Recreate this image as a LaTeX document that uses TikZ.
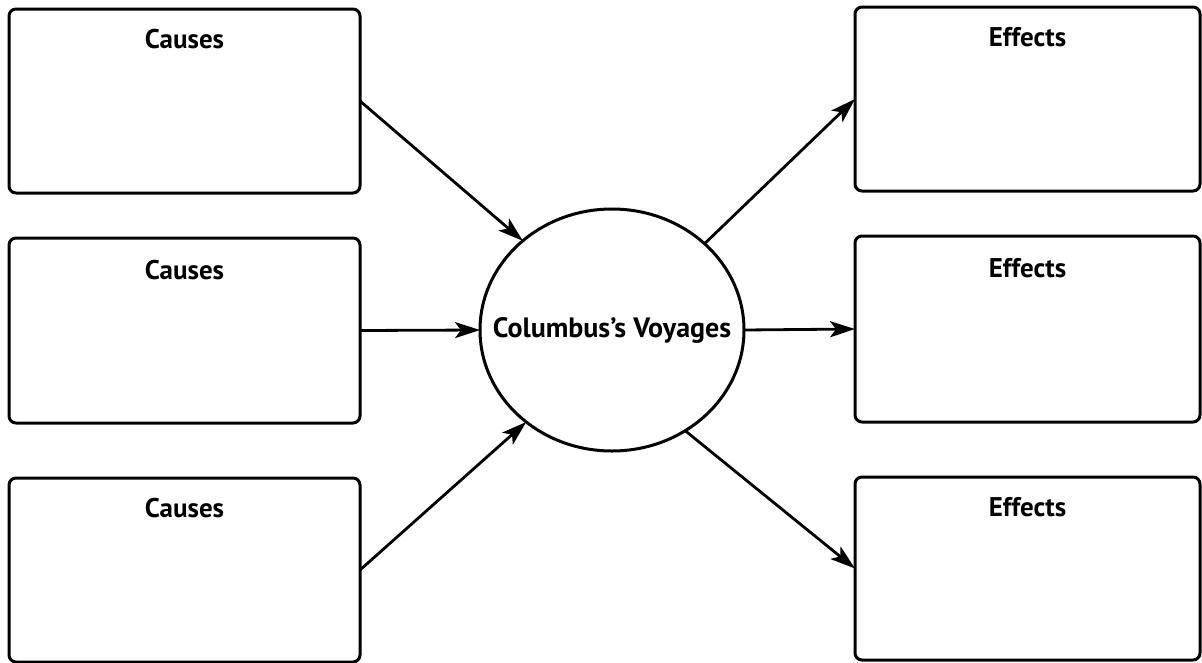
\documentclass[tikz,border=0pt]{standalone}
\usepackage{fontspec}
\setmainfont{PT Sans}
\usetikzlibrary{shapes.geometric,arrows.meta}
\tikzset{
  box/.style={draw=black, line width=3pt, rounded corners=7pt, minimum width=351pt, minimum height=184pt, inner sep=0pt, outer sep=0pt, anchor=north west},
  lbl/.style={font=\fontsize{27}{30}\selectfont\bfseries, inner sep=0pt},
  hub/.style={draw=black, line width=3pt, ellipse, minimum width=264pt, minimum height=242pt, inner sep=0pt, outer sep=0pt},
  hubtext/.style={font=\fontsize{28}{31}\selectfont\bfseries, inner sep=0pt},
  conn/.style={line width=2.8pt, -{Stealth[length=25pt,width=16pt,inset=6pt]}}
}
\begin{document}
\begin{tikzpicture}[x=1pt,y=-1pt]
\useasboundingbox (0,0) rectangle (1202,662);
% left boxes
\node[box] (c1) at (9,9) {};
\node[box, minimum height=185pt] (c2) at (9,238) {};
\node[box] (c3) at (9,478) {};
% right boxes
\node[box, minimum width=345pt] (e1) at (855,7) {};
\node[box, minimum width=345pt, minimum height=186pt] (e2) at (855,236) {};
\node[box, minimum width=345pt, minimum height=183pt] (e3) at (855,477) {};
% labels
\node[lbl] (c1t) at ([yshift=-30pt]c1.north) {Causes};
\node[lbl] (c2t) at ([yshift=-32pt]c2.north) {Causes};
\node[lbl] (c3t) at ([yshift=-30pt]c3.north) {Causes};
\node[lbl] (e1t) at ([yshift=-30pt]e1.north) {Effects};
\node[lbl] (e2t) at ([yshift=-32pt]e2.north) {Effects};
\node[lbl] (e3t) at ([yshift=-30pt]e3.north) {Effects};
% hub
\node[hub] (hub) at (612,330) {};
\node[hubtext] (hubt) at (hub.center) {Columbus’s Voyages};
% connectors
\draw[conn] (c1.east) -- (hub.135);
\draw[conn] (c2.east) -- (hub.west);
\draw[conn] (c3.east) -- (hub.227);
\draw[conn] (hub.43) -- (e1.west);
\draw[conn] (hub.east) -- (e2.west);
\draw[conn] (hub.306) -- (e3.west);
\end{tikzpicture}
\end{document}
